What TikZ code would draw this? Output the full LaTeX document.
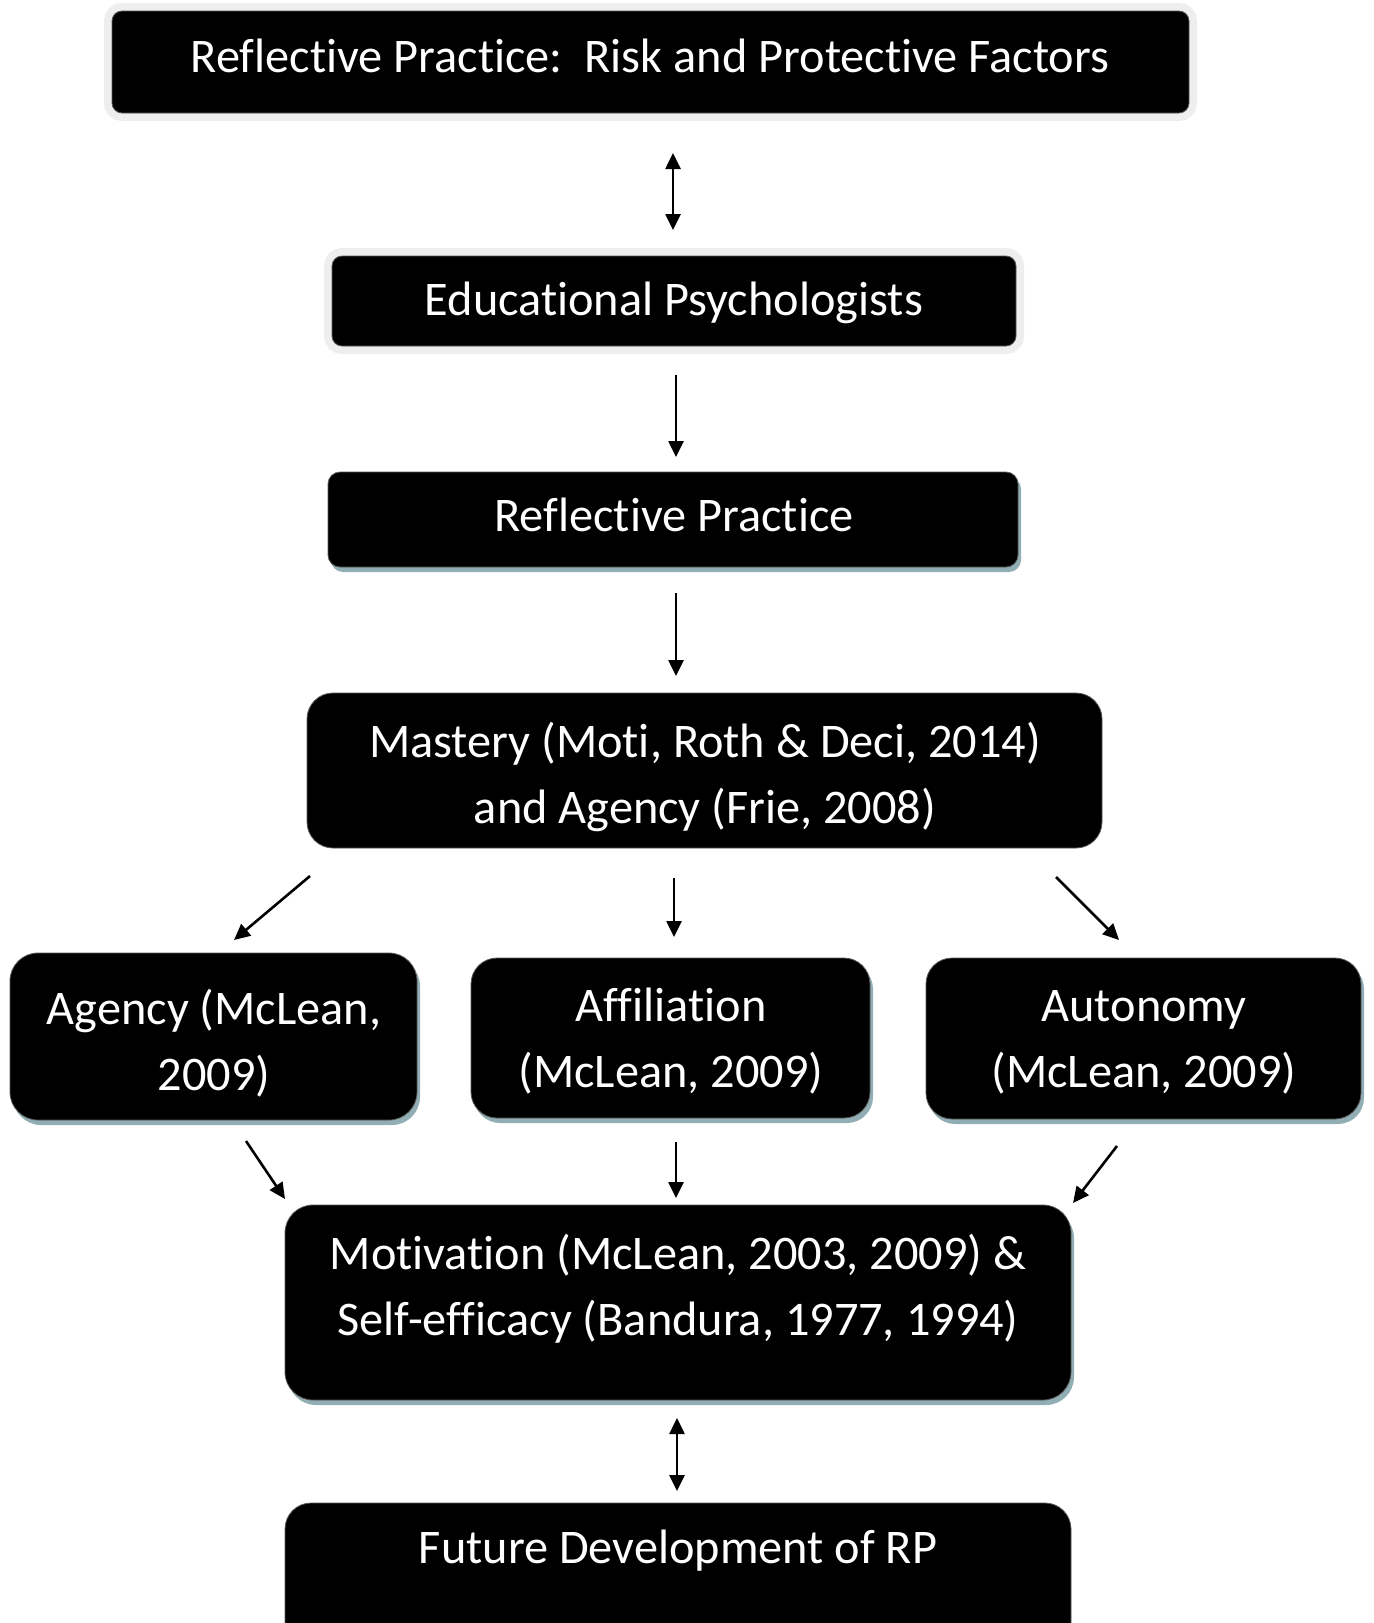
\documentclass[tikz,border=0pt]{standalone}
\usepackage{fontspec}
\setmainfont{Carlito}[RawFeature=-liga, RawFeature=-clig, RawFeature=-dlig, RawFeature=-calt]
\usetikzlibrary{arrows.meta,shadows}
\definecolor{glowgray}{RGB}{238,238,238}
\definecolor{shadowblue}{RGB}{145,174,180}
\definecolor{edgegray}{RGB}{90,90,90}
\begin{document}
\begin{tikzpicture}[x=0.5pt,y=-0.5pt,
  box/.style={fill=black, draw=edgegray, line width=0.4pt, inner sep=0pt, rounded corners=#1},
  box/.default=6pt,
  glow/.style={preaction={draw=glowgray, line width=8pt}},
  shade/.style={drop shadow={shadow xshift=1.5pt, shadow yshift=-2.5pt, fill=shadowblue, opacity=1}},
  label/.style={text=white, font=\fontsize{24.15pt}{33pt}\selectfont, align=center, anchor=base, inner sep=0pt},
  arr/.style={-{Triangle[length=8pt,width=7.5pt]}, line width=1.3pt},
  darr/.style={{Triangle[length=8pt,width=7.5pt]}-{Triangle[length=8pt,width=7.5pt]}, line width=1.3pt}
]
\useasboundingbox (0,0) rectangle (1373,1623);
\clip (0,0) rectangle (1373,1623);

% boxes
\node[box=5pt, glow, minimum width=538.5pt, minimum height=51pt] (bTitle) at (650.5,62) {};
\node[box=5pt, glow, minimum width=342pt, minimum height=45pt] (bEP) at (674,301) {};
\node[box=6pt, shade, minimum width=345pt, minimum height=47.5pt] (bRP) at (673,519.5) {};
\node[box=13pt, minimum width=397.5pt, minimum height=77.5pt] (bMast) at (704.5,770.5) {};
\node[box=14pt, shade, minimum width=203.5pt, minimum height=83.5pt] (bAg) at (213.5,1036.5) {};
\node[box=13pt, shade, minimum width=199.5pt, minimum height=80pt] (bAf) at (670.5,1038) {};
\node[box=13pt, shade, minimum width=217.5pt, minimum height=80.5pt] (bAu) at (1143.5,1038.5) {};
\node[box=14pt, shade, minimum width=393pt, minimum height=97.5pt] (bMot) at (678,1302.5) {};
\node[box=13pt, minimum width=393pt, minimum height=98.5pt] (bFut) at (678,1601.5) {};

% texts (anchored at the baseline of the last line)
\node[label] (tTitle) at (650,72) {Reflective Practice:\ \ Risk and Protective Factors};
\node[label] (tEP) at (674,315) {Educational Psychologists};
\node[label] (tRP) at (674,531) {Reflective Practice};
\node[label] (tMast) at (705,823) {Mastery (Moti, Roth \& Deci, 2014)\\and Agency (Frie, 2008)};
\node[label] (tAg) at (214,1090) {Agency (McLean,\\2009)};
\node[label] (tAf) at (671,1087) {Affiliation\\(McLean, 2009)};
\node[label] (tAu) at (1144,1087) {Autonomy\\(McLean, 2009)};
\node[label] (tMot) at (678,1335) {Motivation (McLean, 2003, 2009) \&\\Self-efficacy (Bandura, 1977, 1994)};
\node[label] (tFut) at (678,1563) {Future Development of RP};

% connector end points
\coordinate (c1a) at (673,153);  \coordinate (c1b) at (673,230);
\coordinate (c2a) at (676,375);  \coordinate (c2b) at (676,457);
\coordinate (c3a) at (676,593);  \coordinate (c3b) at (676,676);
\coordinate (c4a) at (310,876);  \coordinate (c4b) at (234,940);
\coordinate (c5a) at (674,878);  \coordinate (c5b) at (674,937);
\coordinate (c6a) at (1056,877); \coordinate (c6b) at (1119,940);
\coordinate (c7a) at (246,1141); \coordinate (c7b) at (285,1199);
\coordinate (c8a) at (676,1142); \coordinate (c8b) at (676,1198);
\coordinate (c9a) at (1117,1146);\coordinate (c9b) at (1073,1203);
\coordinate (c10a) at (677,1418);\coordinate (c10b) at (677,1491);

% connectors
\draw[darr] (c1a) -- (c1b);
\draw[arr] (c2a) -- (c2b);
\draw[arr] (c3a) -- (c3b);
\draw[arr] (c4a) -- (c4b);
\draw[arr] (c5a) -- (c5b);
\draw[arr] (c6a) -- (c6b);
\draw[arr] (c7a) -- (c7b);
\draw[arr] (c8a) -- (c8b);
\draw[arr] (c9a) -- (c9b);
\draw[darr] (c10a) -- (c10b);
\end{tikzpicture}
\end{document}
